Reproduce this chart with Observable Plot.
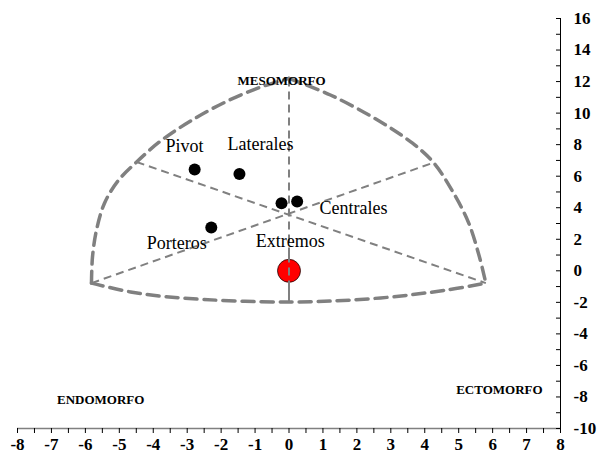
<!DOCTYPE html>
<html><head><meta charset="utf-8">
<script src="https://cdn.jsdelivr.net/npm/d3@7"></script>
<script src="https://cdn.jsdelivr.net/npm/@observablehq/plot@0.6"></script>
<style>body{margin:0;background:#fff} svg, svg text{font-family:"Liberation Serif","Times New Roman",serif !important}</style>
</head><body><div id="chart"></div>
<script>
// Somatochart outline (data units)
const arcLeftX  = [-5.82,-5.79,-5.67,-5.44,-5.05,-4.49,-3.79,-2.90,-1.87,-0.90,0];
const arcLeftY  = [-0.78, 0.89, 2.61, 4.27, 5.67, 6.90, 8.22, 9.50,10.71,11.60,12.2];
const arcRightX = [0, 1.22, 2.61, 3.64, 4.26, 4.82, 5.29, 5.61, 5.80];
const arcRightY = [12.2,11.15, 9.56, 8.09, 6.86, 5.04, 3.06, 0.89,-0.78];
const arcBottomX = [-5.82,-4.67,-3.19,0,2.70,4.67,5.80];
const arcBottomY = [-0.78,-1.34,-1.72,-1.98,-1.72,-1.21,-0.78];
// inner axes of the chart
const axisLines = [
  {x1: 0, y1: 12.2, x2: 0, y2: -1.98},
  {x1: -4.49, y1: 6.90, x2: 5.80, y2: -0.78},
  {x1: -5.82, y1: -0.78, x2: 4.26, y2: 6.86}
];
// group means
const pointX = [-2.78, -1.46, -0.22, 0.24, -2.29];
const pointY = [ 6.42,  6.14,  4.29, 4.40,  2.74];
const refX = [0];
const refY = [0];
// group labels
const groupNames = ["Pivot", "Laterales", "Centrales", "Porteros", "Extremos"];
const groupLabelX = [-3.08, -0.84, 1.9, -3.31, 0.04];
const groupLabelY = [7.9, 8.03, 3.95, 1.72, 1.85];
// component labels
const compNames = ["MESOMORFO", "ENDOMORFO", "ECTOMORFO"];
const compX = [-0.22, -5.55, 6.2];
const compY = [12.05, -8.16, -7.52];
// ticks
const xTicks = d3.range(-8, 9, 1);
const xMinor = d3.range(-8, 8.01, 0.5);
const yTicks = d3.range(-10, 17, 2);
const yMinor = d3.range(-10, 17, 1);

const toPts = (xs, ys) => xs.map((x, i) => ({x, y: ys[i]}));
const gray = "#808080";
const fmt = d => String(d);
const serif = "'Liberation Serif', 'Times New Roman', serif";

const chart = Plot.plot({
  width: 602, height: 455,
  marginLeft: 17, marginRight: 42, marginTop: 18, marginBottom: 27,
  x: {domain: [-8, 8]},
  y: {domain: [-10, 16]},
  style: {fontFamily: serif, background: "#fff", color: "#000"},
  marks: [
    Plot.line(toPts(arcLeftX, arcLeftY), {x: "x", y: "y", curve: "catmull-rom", stroke: gray, strokeWidth: 3.5, strokeDasharray: "12,7"}),
    Plot.line(toPts(arcRightX, arcRightY), {x: "x", y: "y", curve: "catmull-rom", stroke: gray, strokeWidth: 3.5, strokeDasharray: "12,7"}),
    Plot.line(toPts(arcBottomX, arcBottomY), {x: "x", y: "y", curve: "catmull-rom", stroke: gray, strokeWidth: 3.5, strokeDasharray: "12,7"}),
    Plot.link(axisLines, {x1: "x1", y1: "y1", x2: "x2", y2: "y2", stroke: gray, strokeWidth: 2, strokeDasharray: "8,5"}),
    Plot.dot(toPts(refX, refY), {x: "x", y: "y", r: 11.5, fill: "#ff0000", stroke: "#000", strokeWidth: 0.7}),
    Plot.ruleX([0], {y1: -1.98, y2: 1.0, stroke: gray, strokeWidth: 2, strokeDasharray: "8,5"}),
    Plot.dot(toPts(pointX, pointY), {x: "x", y: "y", r: 6, fill: "#000", stroke: "none"}),
    Plot.text(groupNames.map((t, i) => ({t, x: groupLabelX[i], y: groupLabelY[i]})), {x: "x", y: "y", text: "t", fontSize: 18, fontFamily: serif, fill: "#000"}),
    Plot.text(compNames.map((t, i) => ({t, x: compX[i], y: compY[i]})), {x: "x", y: "y", text: "t", fontSize: 13, fontWeight: "bold", fontFamily: serif, fill: "#000"}),
    Plot.ruleY([-10], {stroke: gray, strokeWidth: 1.5}),
    Plot.ruleX([8], {stroke: "#000", strokeWidth: 1}),
    Plot.axisX({ticks: xMinor, tickSize: 5, text: null, stroke: "#000"}),
    Plot.axisX({ticks: xTicks, tickSize: 0, tickPadding: 9, tickFormat: fmt, fontSize: 17, fontWeight: "bold", fontFamily: serif, fill: "#000"}),
    Plot.axisY({anchor: "right", ticks: yMinor, tickSize: 5, dx: -5, text: null, stroke: "#000"}),
    Plot.axisY({anchor: "right", ticks: yTicks, tickSize: 0, tickPadding: 13, tickFormat: fmt, fontSize: 17, fontWeight: "bold", fontFamily: serif, fill: "#000"})
  ]
});
document.getElementById("chart").appendChild(chart);
</script>
</body></html>
